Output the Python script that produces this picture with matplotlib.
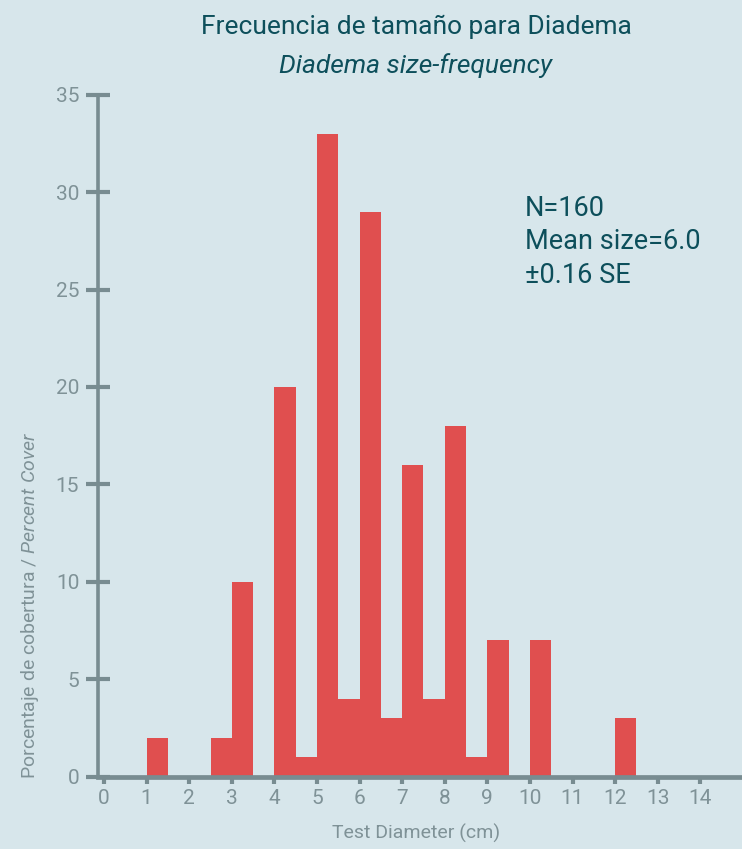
import matplotlib
matplotlib.use("Agg")
import matplotlib.pyplot as plt
from matplotlib import font_manager

# data
bin_start = [1.0, 2.5, 3.0, 4.0, 4.5, 5.0, 5.5, 6.0, 6.5, 7.0, 7.5, 8.0, 8.5, 9.0, 10.0, 12.0]
percent = [2, 2, 10, 20, 1, 33, 4, 29, 3, 16, 4, 18, 1, 7, 7, 3]
x_ticks = list(range(0, 15))
y_ticks = list(range(0, 36, 5))

title_es = "Frecuencia de tamaño para Diadema"
title_en = "Diadema size-frequency"
stats_text = "N=160\nMean size=6.0\n±0.16 SE"

names = {f.name for f in font_manager.fontManager.ttflist}
narrow = "Liberation Sans Narrow" if "Liberation Sans Narrow" in names else "Roboto"
plt.rcParams['font.family'] = [narrow, 'DejaVu Sans']
plt.rcParams['mathtext.fontset'] = 'custom'
plt.rcParams['mathtext.rm'] = narrow
plt.rcParams['mathtext.it'] = narrow + ':italic'

bg = "#d7e6eb"
bar_color = "#e04f4f"
axis_color = "#788c91"
label_color = "#7f9297"
title_color = "#0d4f5b"

fig = plt.figure(figsize=(7.42, 8.49), dpi=100, facecolor=bg)
ax = fig.add_axes([98 / 742, 1 - 776.5 / 849, 644 / 742, (776.5 - 94.7) / 849])
ax.set_facecolor(bg)

ax.bar(bin_start, percent, width=0.5, align='edge', color=bar_color, linewidth=0)

ax.set_xlim(-0.143, 14.98)
ax.set_ylim(0, 35)

for s in ['top', 'right']:
    ax.spines[s].set_visible(False)
ax.spines['left'].set_color(axis_color)
ax.spines['left'].set_linewidth(2.6)
ax.spines['bottom'].set_color(axis_color)
ax.spines['bottom'].set_linewidth(3.4)

ax.set_xticks(x_ticks)
ax.set_yticks(y_ticks)
ax.tick_params(axis='y', direction='inout', length=17, width=3, color=axis_color,
               labelcolor=label_color, labelsize=15, pad=5)
ax.tick_params(axis='x', direction='out', length=5, width=3, color=axis_color,
               labelcolor=label_color, labelsize=15, pad=4)

fig.text(416 / 742, 1 - 27 / 849, title_es, ha='center', va='center',
         fontsize=19, color=title_color)
fig.text(416 / 742, 1 - 66 / 849, title_en, ha='center', va='center',
         fontsize=19, color=title_color, style='italic')

ax.text(9.88, 29.85, stats_text, ha='left', va='top', fontsize=19.5,
        color=title_color, linespacing=1.3)

fig.text(416 / 742, 1 - 833 / 849, "Test Diameter (cm)", ha='center', va='center',
         fontsize=14, color=label_color)
fig.text(30 / 742, 1 - 779 / 849, r"Porcentaje de cobertura / $Percent\ Cover$",
         rotation=90, ha='center', va='bottom', fontsize=14, color=label_color)

fig.savefig("out.png", dpi=100, facecolor=bg)
